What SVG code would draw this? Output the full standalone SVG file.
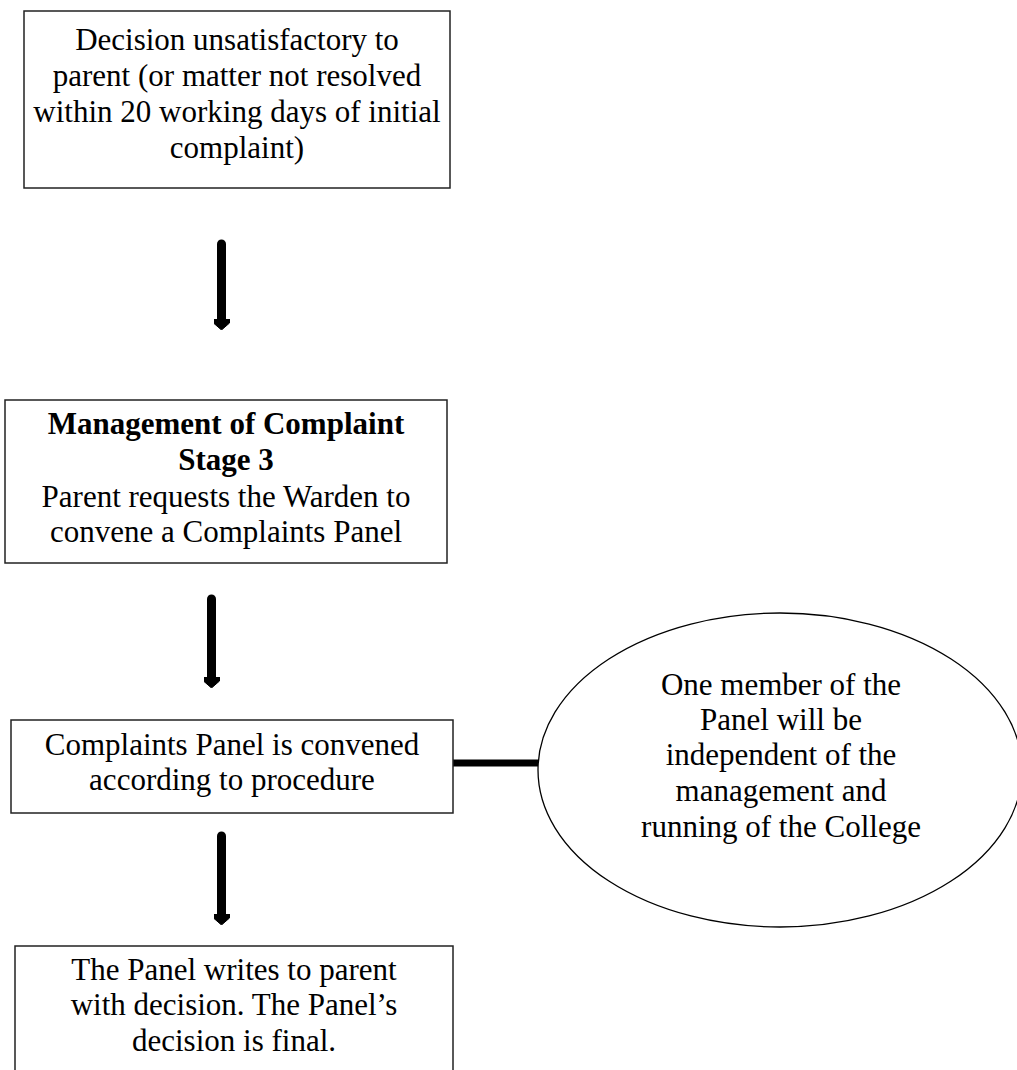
<svg xmlns="http://www.w3.org/2000/svg" width="1017" height="1070" viewBox="0 0 1017 1070">
<style>
.box{fill:#fff;stroke:#222;stroke-width:1.5}
.ell{fill:#fff;stroke:#000;stroke-width:1.3}
.t{font-family:"Liberation Serif","Times New Roman",serif;font-size:31px;fill:#000;text-anchor:middle}
.b{font-weight:bold}
.arrow{stroke:#000;stroke-width:9;stroke-linecap:round;fill:none}
.link{stroke:#000;stroke-width:7;fill:none}
</style>
<defs>
<marker id="head" markerUnits="userSpaceOnUse" viewBox="0 0 11 16" refX="1" refY="8" markerWidth="11" markerHeight="16" orient="auto">
<path d="M0,0 L4,0 L11,8 L4,16 L0,16 Z" fill="#000" stroke="#000" stroke-width="1" stroke-linejoin="round"/>
</marker>
</defs>
<rect width="1017" height="1070" fill="#fff"/>
<g id="connectors">
<line class="arrow" x1="221.5" y1="244" x2="221.5" y2="320" marker-end="url(#head)"/>
<line class="arrow" x1="211.5" y1="599" x2="211.5" y2="678" marker-end="url(#head)"/>
<line class="arrow" x1="221.5" y1="836" x2="221.5" y2="915" marker-end="url(#head)"/>
<line class="link" x1="453" y1="763" x2="538" y2="763"/>
</g>
<g id="node-decision">
<rect class="box" x="24" y="11" width="426" height="177"/>
<text class="t" x="237" y="50">Decision unsatisfactory to</text>
<text class="t" x="237" y="86">parent (or matter not resolved</text>
<text class="t" x="237" y="122">within 20 working days of initial</text>
<text class="t" x="237" y="158">complaint)</text>
</g>
<g id="node-stage3">
<rect class="box" x="5" y="400" width="442" height="163"/>
<text class="t b" x="226" y="434">Management of Complaint</text>
<text class="t b" x="226" y="470">Stage 3</text>
<text class="t" x="226" y="507">Parent requests the Warden to</text>
<text class="t" x="226" y="542">convene a Complaints Panel</text>
</g>
<g id="node-convened">
<rect class="box" x="11" y="720" width="442" height="93"/>
<text class="t" x="232" y="755">Complaints Panel is convened</text>
<text class="t" x="232" y="790">according to procedure</text>
</g>
<g id="node-independent">
<ellipse class="ell" cx="780" cy="770" rx="242" ry="157"/>
<text class="t" x="781" y="695">One member of the</text>
<text class="t" x="781" y="730">Panel will be</text>
<text class="t" x="781" y="765">independent of the</text>
<text class="t" x="781" y="801">management and</text>
<text class="t" x="781" y="837">running of the College</text>
</g>
<g id="node-final">
<rect class="box" x="15" y="946" width="438" height="140"/>
<text class="t" x="234" y="980">The Panel writes to parent</text>
<text class="t" x="234" y="1015">with decision. The Panel’s</text>
<text class="t" x="234" y="1051">decision is final.</text>
</g>
</svg>
